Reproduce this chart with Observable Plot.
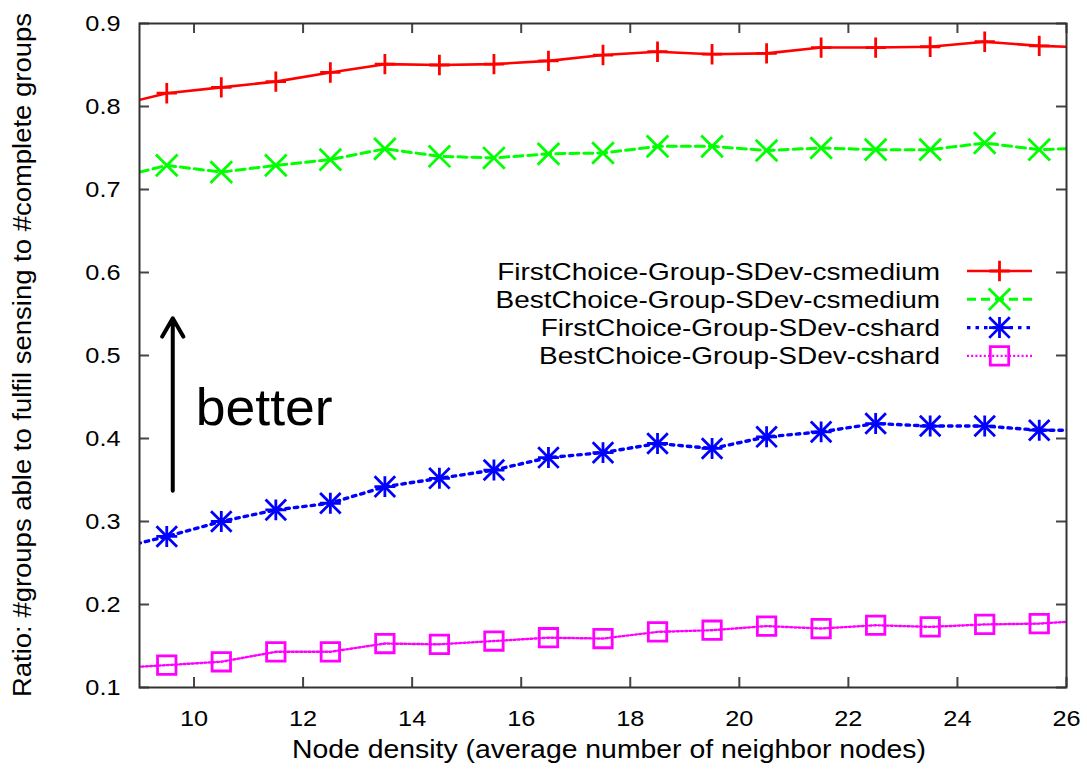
<!DOCTYPE html>
<html><head><meta charset="utf-8">
<script src="https://cdn.jsdelivr.net/npm/d3@7"></script>
<script src="https://cdn.jsdelivr.net/npm/@observablehq/plot@0.6"></script>
<style>body{margin:0;background:#fff} svg{display:block}</style>
</head><body><div id="chart"></div>
<script>
// ---- data ----
const nodeDensity = [8.5, 9.5, 10.5, 11.5, 12.5, 13.5, 14.5, 15.5, 16.5, 17.5, 18.5, 19.5, 20.5, 21.5, 22.5, 23.5, 24.5, 25.5, 26.5];
const firstChoiceMedium = [0.800, 0.816, 0.823, 0.830, 0.841, 0.851, 0.850, 0.851, 0.855, 0.862, 0.866, 0.863, 0.864, 0.871, 0.871, 0.872, 0.878, 0.873, 0.871];
const bestChoiceMedium  = [0.713, 0.729, 0.721, 0.729, 0.736, 0.749, 0.740, 0.738, 0.743, 0.744, 0.752, 0.752, 0.747, 0.750, 0.748, 0.748, 0.756, 0.748, 0.750];
const firstChoiceHard   = [0.266, 0.282, 0.300, 0.314, 0.322, 0.342, 0.352, 0.362, 0.377, 0.383, 0.394, 0.388, 0.402, 0.408, 0.418, 0.415, 0.415, 0.410, 0.410];
const bestChoiceHard    = [0.123, 0.127, 0.131, 0.143, 0.143, 0.153, 0.152, 0.156, 0.160, 0.159, 0.167, 0.169, 0.174, 0.171, 0.175, 0.173, 0.176, 0.177, 0.181];
const seriesNames = ["FirstChoice-Group-SDev-csmedium", "BestChoice-Group-SDev-csmedium", "FirstChoice-Group-SDev-cshard", "BestChoice-Group-SDev-cshard"];
const xTicks = [10, 12, 14, 16, 18, 20, 22, 24, 26];
const yTicks = [0.1, 0.2, 0.3, 0.4, 0.5, 0.6, 0.7, 0.8, 0.9];
const xLabel = "Node density (average number of neighbor nodes)";
const yLabel = "Ratio: #groups able to fulfil sensing to #complete groups";
const annotationText = "better";

// ---- styles ----
const seriesValues = [firstChoiceMedium, bestChoiceMedium, firstChoiceHard, bestChoiceHard];
const styles = [
  {color: "#ff0000", dash: null, width: 2.6, symbols: [{s: "plus", r: 6.6}]},
  {color: "#00ff00", dash: "9,5", width: 3, symbols: [{s: "times", r: 9.9}]},
  {color: "#0000ff", dash: "3.5,5", width: 3.4, symbols: [{s: "plus", r: 6.8}, {s: "times", r: 9.4}]},
  {color: "#ff00ff", dash: "2,2.2", width: 2.4, symbols: [{s: "square", r: 10.4}]}
];
const FONT = "'Liberation Sans', Arial, Helvetica, sans-serif";

const rows = [];
seriesNames.forEach((name, i) => nodeDensity.forEach((x, j) => rows.push({series: name, idx: i, x, v: seriesValues[i][j]})));

const W = 1087, H = 773, mL = 139, mR = 21, mT = 23, mB = 86;
const plotW = W - mL - mR, plotH = H - mT - mB;
const tickLen = 10;

const marks = [];
styles.forEach((st, i) => {
  const d = rows.filter(r => r.idx === i);
  marks.push(Plot.line(d, {x: "x", y: "v", stroke: st.color, strokeWidth: st.width, strokeDasharray: st.dash, clip: true}));
});
styles.forEach((st, i) => {
  const d = rows.filter(r => r.idx === i && r.x > 9 && r.x < 26);
  st.symbols.forEach(sy => marks.push(Plot.dot(d, {x: "x", y: "v", symbol: sy.s, r: sy.r, stroke: st.color, strokeWidth: 2.8, fill: sy.s === "square" ? "none" : null})));
});

const arrowSpec = [{x: 9.61, y1: 0.337, y2: 0.545}];
const betterSpec = [{x: 10.03, y: 0.436, t: annotationText}];

const chart = Plot.plot({
  width: W, height: H,
  marginLeft: mL, marginRight: mR, marginTop: mT, marginBottom: mB,
  style: {fontFamily: FONT, fontSize: "22px", color: "#000", background: "#fff"},
  x: {domain: [9, 26]},
  y: {domain: [0.1, 0.9]},
  marks: [
    ...marks,
    Plot.arrow(arrowSpec, {x1: "x", x2: "x", y1: "y1", y2: "y2", stroke: "#000", strokeWidth: 4}),
    Plot.text(betterSpec, {x: "x", y: "y", text: "t", textAnchor: "start", fontSize: 52, fill: "#000"}),
    Plot.tickY(yTicks, {y: d => d, insetRight: plotW - tickLen, stroke: "#444", strokeWidth: 2}),
    Plot.tickY(yTicks, {y: d => d, insetLeft: plotW - tickLen, stroke: "#444", strokeWidth: 2}),
    Plot.tickX(xTicks, {x: d => d, insetTop: plotH - tickLen, stroke: "#444", strokeWidth: 2}),
    Plot.tickX(xTicks, {x: d => d, insetBottom: plotH - tickLen, stroke: "#444", strokeWidth: 2}),
    Plot.frame({stroke: "#333", strokeWidth: 2}),
    Plot.axisY({ticks: yTicks, tickSize: 0, tickPadding: 19, tickFormat: d3.format(".1f"), label: null}),
    Plot.axisX({ticks: xTicks, tickSize: 0, tickPadding: 23, tickFormat: d3.format("d"), label: null})
  ]
});
document.getElementById("chart").appendChild(chart);

const svg = d3.select(chart);
svg.selectAll('g[aria-label="y-axis tick label"] text, g[aria-label="x-axis tick label"] text').each(function() {
  const len = this.getComputedTextLength();
  this.setAttribute("textLength", len * 1.15);
  this.setAttribute("lengthAdjust", "spacingAndGlyphs");
});
svg.selectAll('g[aria-label="text"] text').each(function() {
  this.setAttribute("textLength", 137);
  this.setAttribute("lengthAdjust", "spacingAndGlyphs");
});

// axis titles
svg.append("text").attr("transform", `translate(31,${mT + plotH / 2}) rotate(-90)`)
  .attr("text-anchor", "middle").attr("font-size", 25).attr("font-family", FONT).attr("fill", "#000")
  .attr("textLength", 684).attr("lengthAdjust", "spacingAndGlyphs").text(yLabel);
svg.append("text").attr("x", 609).attr("y", 758)
  .attr("text-anchor", "middle").attr("font-size", 25).attr("font-family", FONT).attr("fill", "#000")
  .attr("textLength", 634).attr("lengthAdjust", "spacingAndGlyphs").text(xLabel);

// legend
const lg = svg.append("g").attr("aria-label", "legend");
seriesNames.forEach((name, i) => {
  const st = styles[i];
  const cy = 271 + i * 28.3;
  const t = lg.append("text").attr("x", 940).attr("y", cy + 8.5).attr("text-anchor", "end")
    .attr("font-size", 24).attr("font-family", FONT).attr("fill", "#000").text(name);
  const len = t.node().getComputedTextLength();
  t.attr("textLength", len * 1.165).attr("lengthAdjust", "spacingAndGlyphs");
  lg.append("line").attr("x1", 967).attr("x2", 1032).attr("y1", cy).attr("y2", cy)
    .attr("stroke", st.color).attr("stroke-width", st.width).attr("stroke-dasharray", st.dash);
  st.symbols.forEach(sy => {
    const type = {plus: d3.symbolPlus, times: d3.symbolTimes, square: d3.symbolSquare}[sy.s];
    lg.append("path").attr("transform", `translate(999.5,${cy})`)
      .attr("d", d3.symbol(type, sy.r * sy.r * Math.PI)())
      .attr("fill", "none").attr("stroke", st.color).attr("stroke-width", 2.8);
  });
});
</script>
</body></html>
